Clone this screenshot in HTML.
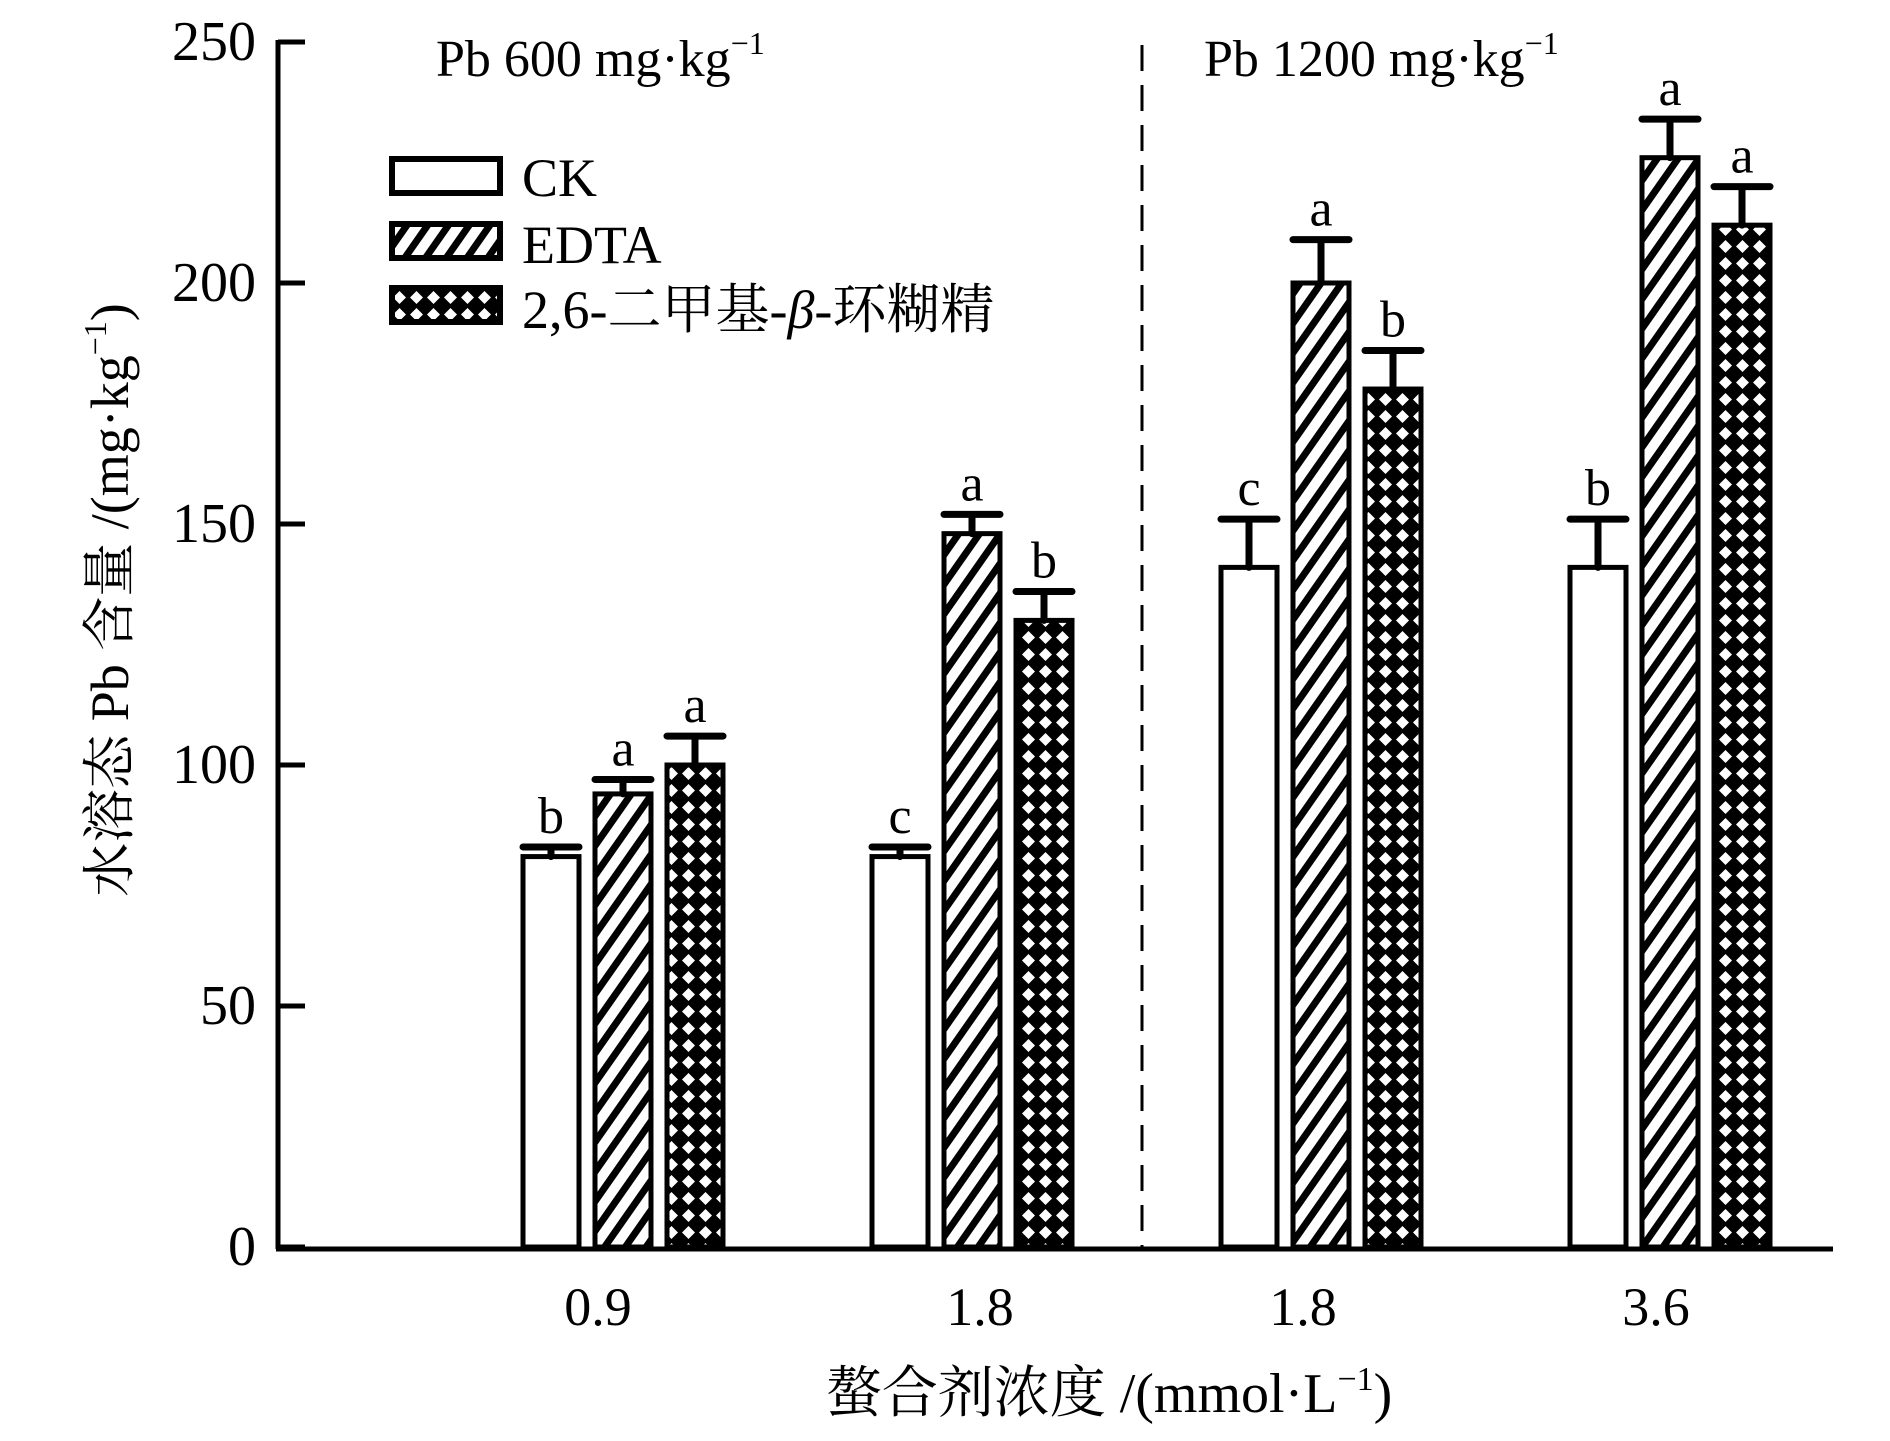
<!DOCTYPE html>
<html><head><meta charset="utf-8"><style>
html,body{margin:0;padding:0;background:#fff;}
svg{display:block;}
text{font-family:"Liberation Serif","Noto Serif CJK SC",serif;fill:#000;}
</style></head><body>
<svg id="chart" width="1890" height="1441" viewBox="0 0 1890 1441" xmlns="http://www.w3.org/2000/svg">
<defs>
<pattern id="hatch" patternUnits="userSpaceOnUse" width="17" height="17" patternTransform="rotate(35)">
<rect width="17" height="17" fill="#fff"/><rect width="7" height="17" fill="#000"/>
</pattern>
<pattern id="cross" patternUnits="userSpaceOnUse" width="17" height="17">
<rect width="17" height="17" fill="#000"/><path d="M8.5 2 L15 8.5 L8.5 15 L2 8.5 Z" fill="#fff"/>
</pattern>
</defs>
<g id="axes"></g>
<g id="bars"></g>
<g id="legend">
<rect x="392" y="159" width="108" height="34" fill="#fff" stroke="#000" stroke-width="6"/>
<text x="522" y="196" font-size="54">CK</text>
<rect x="392" y="224" width="108" height="34" fill="url(#hatch)" stroke="#000" stroke-width="6"/>
<text x="522" y="263" font-size="54">EDTA</text>
<rect x="392" y="288" width="108" height="34" fill="url(#cross)" stroke="#000" stroke-width="6"/>
<text x="522" y="328" font-size="54">2,6-二甲基-<tspan font-style="italic">β</tspan>-环糊精</text>
</g>
<text x="436" y="76" font-size="52">Pb 600 mg·kg<tspan dy="-22" font-size="32">−1</tspan></text>
<text x="1204" y="76" font-size="52">Pb 1200 mg·kg<tspan dy="-22" font-size="32">−1</tspan></text>
<line x1="1142" y1="45" x2="1142" y2="1247" stroke="#000" stroke-width="3" stroke-dasharray="26,14"/>
<text transform="translate(128,600) rotate(-90)" text-anchor="middle" font-size="54">水溶态 Pb 含量 /(mg·kg<tspan dy="-22" font-size="32">−1</tspan><tspan dy="22">)</tspan></text>
<text x="1109" y="1412" text-anchor="middle" font-size="56">螯合剂浓度 /(mmol·L<tspan dy="-22" font-size="34">−1</tspan><tspan dy="22">)</tspan></text>
</svg>
<script>
const categories = ["0.9","1.8","1.8","3.6"];
const ckValues = [81,81,141,141];
const edtaValues = [94,148,200,226];
const cdValues = [100,130,178,212];
const ckErr = [2,2,10,10];
const edtaErr = [3,4,9,8];
const cdErr = [6,6,8,8];
const ckLetters = ["b","c","c","b"];
const edtaLetters = ["a","a","a","a"];
const cdLetters = ["a","b","b","a"];
const yTicks = [0,50,100,150,200,250];

const NS="http://www.w3.org/2000/svg";
const y0=1247, pxPer=(1247-42)/250;
function yScale(v){return y0-v*pxPer;}
function groupLeft(i){return 523+i*349;}
const bw=56, gap=16;
function mk(tag,attrs,parent){const e=document.createElementNS(NS,tag);for(const k in attrs)e.setAttribute(k,attrs[k]);parent.appendChild(e);return e;}
const axes=document.getElementById('axes'), bars=document.getElementById('bars');
let yl=mk('line',{x1:278,y1:40,x2:278,y2:1249,stroke:'#000','stroke-width':5},axes);


let xl=mk('line',{x1:276,y1:1249,x2:1833,y2:1249,stroke:'#000','stroke-width':5},axes);


yTicks.forEach(t=>{
  const y=yScale(t);
  const tk=mk('line',{x1:278,y1:y,x2:305,y2:y,stroke:'#000','stroke-width':5},axes);
  
  
  const tx=mk('text',{x:256,y:y+18,'text-anchor':'end','font-size':56},axes);
  tx.textContent=t;
  
  
});
const series=[[ckValues,ckErr,ckLetters,'#fff','ck'],[edtaValues,edtaErr,edtaLetters,'url(#hatch)','edta'],[cdValues,cdErr,cdLetters,'url(#cross)','cd']];
const labelOff=[-25,8,-18,-14];
categories.forEach((c,i)=>{
  const gl=groupLeft(i);
  series.forEach((s,j)=>{
    const x=gl+j*(bw+gap), v=s[0][i], top=yScale(v), e=yScale(v+s[1][i]);
    const r=mk('rect',{x:x,y:top,width:bw,height:y0-top,fill:s[3],stroke:'#000','stroke-width':5},bars);
    
    
    const cx=x+bw/2;
    const el=mk('path',{d:`M${cx} ${top} V${e} M${x} ${e} H${x+bw}`,stroke:'#000','stroke-width':7,fill:'none','stroke-linecap':'round'},bars);
    
    
    const lt=mk('text',{x:cx,y:e-14,'text-anchor':'middle','font-size':52},bars);
    lt.textContent=s[2][i];
    
    
  });
  const xt=mk('text',{x:gl+100+labelOff[i],y:1325,'text-anchor':'middle','font-size':54},axes);
  xt.textContent=c;
  
  
});
</script>
</body></html>
